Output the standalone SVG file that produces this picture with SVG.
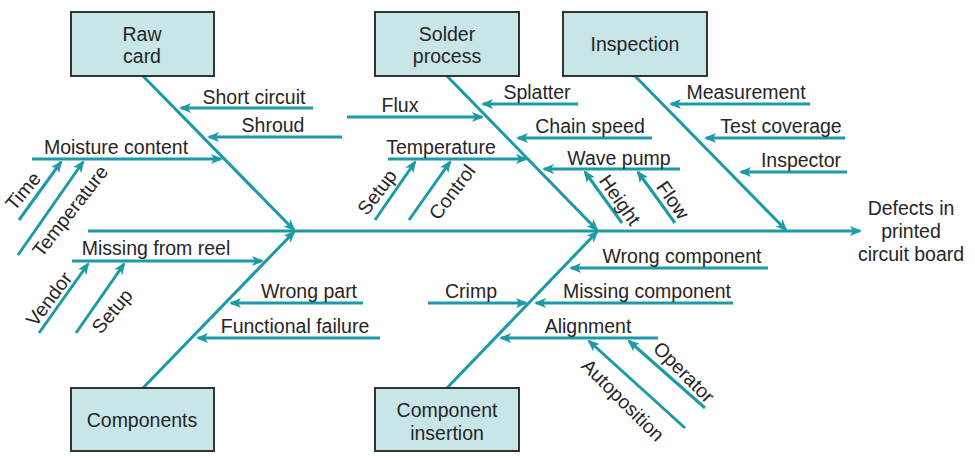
<svg xmlns="http://www.w3.org/2000/svg" width="975" height="458" viewBox="0 0 975 458">
<style>
.box{fill:#c8e5e8;stroke:#333;stroke-width:2}
.ln{stroke:#1c9aa5;stroke-width:3;fill:none}
.a{marker-end:url(#ah)}
text{font-family:"Liberation Sans",Arial,sans-serif;font-size:19.5px;fill:#262626}
.c{text-anchor:middle}
</style>
<defs>
<marker id="ah" viewBox="0 0 12 10" refX="10" refY="5" markerWidth="12" markerHeight="10" markerUnits="userSpaceOnUse" orient="auto">
<path d="M0,0 L12,5 L0,10 L3,5 z" fill="#1c9aa5"/>
</marker>
</defs>
<rect width="975" height="458" fill="#fff"/>

<g id="connectors">
<line class="ln a" x1="88" y1="231" x2="860" y2="231"/>
<line class="ln a" x1="143" y1="76" x2="294" y2="230"/>
<line class="ln a" x1="447" y1="76" x2="597" y2="230"/>
<line class="ln a" x1="635" y1="76" x2="786" y2="230"/>
<line class="ln a" x1="143" y1="388" x2="294" y2="232"/>
<line class="ln a" x1="447" y1="388" x2="597" y2="232"/>
<!-- raw card -->
<line class="ln a" x1="313" y1="108" x2="181" y2="108"/>
<line class="ln a" x1="342" y1="137" x2="209" y2="137"/>
<line class="ln a" x1="32" y1="159" x2="221" y2="159"/>
<line class="ln a" x1="19" y1="220" x2="61" y2="162"/>
<line class="ln a" x1="18" y1="255" x2="83" y2="162"/>
<!-- components -->
<line class="ln a" x1="72" y1="261" x2="262" y2="261"/>
<line class="ln a" x1="39" y1="333" x2="88" y2="264"/>
<line class="ln a" x1="76" y1="333" x2="124" y2="264"/>
<line class="ln a" x1="363" y1="303" x2="231" y2="303"/>
<line class="ln a" x1="380" y1="338" x2="198" y2="338"/>
<!-- solder -->
<line class="ln a" x1="578" y1="104" x2="483" y2="104"/>
<line class="ln a" x1="347" y1="117" x2="482" y2="117"/>
<line class="ln a" x1="652" y1="138" x2="518" y2="138"/>
<line class="ln a" x1="388" y1="159" x2="526" y2="159"/>
<line class="ln a" x1="375" y1="220" x2="415" y2="162"/>
<line class="ln a" x1="409" y1="220" x2="450" y2="162"/>
<line class="ln a" x1="680" y1="169" x2="544" y2="169"/>
<line class="ln a" x1="622" y1="223" x2="585" y2="172"/>
<line class="ln a" x1="675" y1="223" x2="638" y2="172"/>
<!-- inspection -->
<line class="ln a" x1="810" y1="104" x2="671" y2="104"/>
<line class="ln a" x1="845" y1="138" x2="706" y2="138"/>
<line class="ln a" x1="847" y1="172" x2="741" y2="172"/>
<!-- component insertion -->
<line class="ln a" x1="768" y1="268" x2="571" y2="268"/>
<line class="ln a" x1="733" y1="303" x2="536" y2="303"/>
<line class="ln a" x1="428" y1="303" x2="526" y2="303"/>
<line class="ln a" x1="658" y1="338" x2="501" y2="338"/>
<line class="ln a" x1="685" y1="428" x2="589" y2="341"/>
<line class="ln a" x1="705" y1="408" x2="629" y2="341"/>
</g>

<g id="raw-card"><rect class="box" x="71" y="12" width="143" height="64"/><text class="c" x="142" y="41">Raw</text><text class="c" x="142" y="63">card</text></g>
<g id="solder-process"><rect class="box" x="375" y="12" width="144" height="64"/><text class="c" x="447" y="41">Solder</text><text class="c" x="447" y="63">process</text></g>
<g id="inspection"><rect class="box" x="563" y="12" width="144" height="64"/><text class="c" x="635" y="51">Inspection</text></g>
<g id="components"><rect class="box" x="71" y="388" width="143" height="63"/><text class="c" x="142" y="427">Components</text></g>
<g id="component-insertion"><rect class="box" x="375" y="388" width="144" height="63"/><text class="c" x="447" y="417">Component</text><text class="c" x="447" y="440">insertion</text></g>
<g id="effect"><text class="c" x="911" y="215">Defects in</text><text class="c" x="911" y="238">printed</text><text class="c" x="911" y="261">circuit board</text></g>

<g id="labels">
<text class="c" x="254" y="104">Short circuit</text>
<text class="c" x="273" y="132">Shroud</text>
<text class="c" x="116" y="154">Moisture content</text>
<text class="c" transform="translate(23,191) rotate(-50)" dy="0.35em">Time</text>
<text class="c" transform="translate(70,211) rotate(-52)" dy="0.35em">Temperature</text>
<text class="c" x="156" y="255">Missing from reel</text>
<text class="c" transform="translate(49,299) rotate(-53)" dy="0.35em">Vendor</text>
<text class="c" transform="translate(112,311) rotate(-50)" dy="0.35em">Setup</text>
<text class="c" x="309" y="298">Wrong part</text>
<text class="c" x="295" y="333">Functional failure</text>
<text class="c" x="537" y="99">Splatter</text>
<text class="c" x="400" y="112">Flux</text>
<text class="c" x="590" y="133">Chain speed</text>
<text class="c" x="441" y="154">Temperature</text>
<text class="c" transform="translate(377,192) rotate(-53)" dy="0.35em">Setup</text>
<text class="c" transform="translate(452,192) rotate(-53)" dy="0.35em">Control</text>
<text class="c" x="619" y="165">Wave pump</text>
<text class="c" transform="translate(620,200) rotate(55)" dy="0.35em">Height</text>
<text class="c" transform="translate(673,200) rotate(55)" dy="0.35em">Flow</text>
<text class="c" x="746" y="99">Measurement</text>
<text class="c" x="781" y="133">Test coverage</text>
<text class="c" x="801" y="167">Inspector</text>
<text class="c" x="682" y="263">Wrong component</text>
<text class="c" x="647" y="298">Missing component</text>
<text class="c" x="471" y="298">Crimp</text>
<text class="c" x="588" y="333">Alignment</text>
<text class="c" transform="translate(623,400) rotate(45)" dy="0.35em">Autoposition</text>
<text class="c" transform="translate(684,372) rotate(45)" dy="0.35em">Operator</text>
</g>
</svg>
